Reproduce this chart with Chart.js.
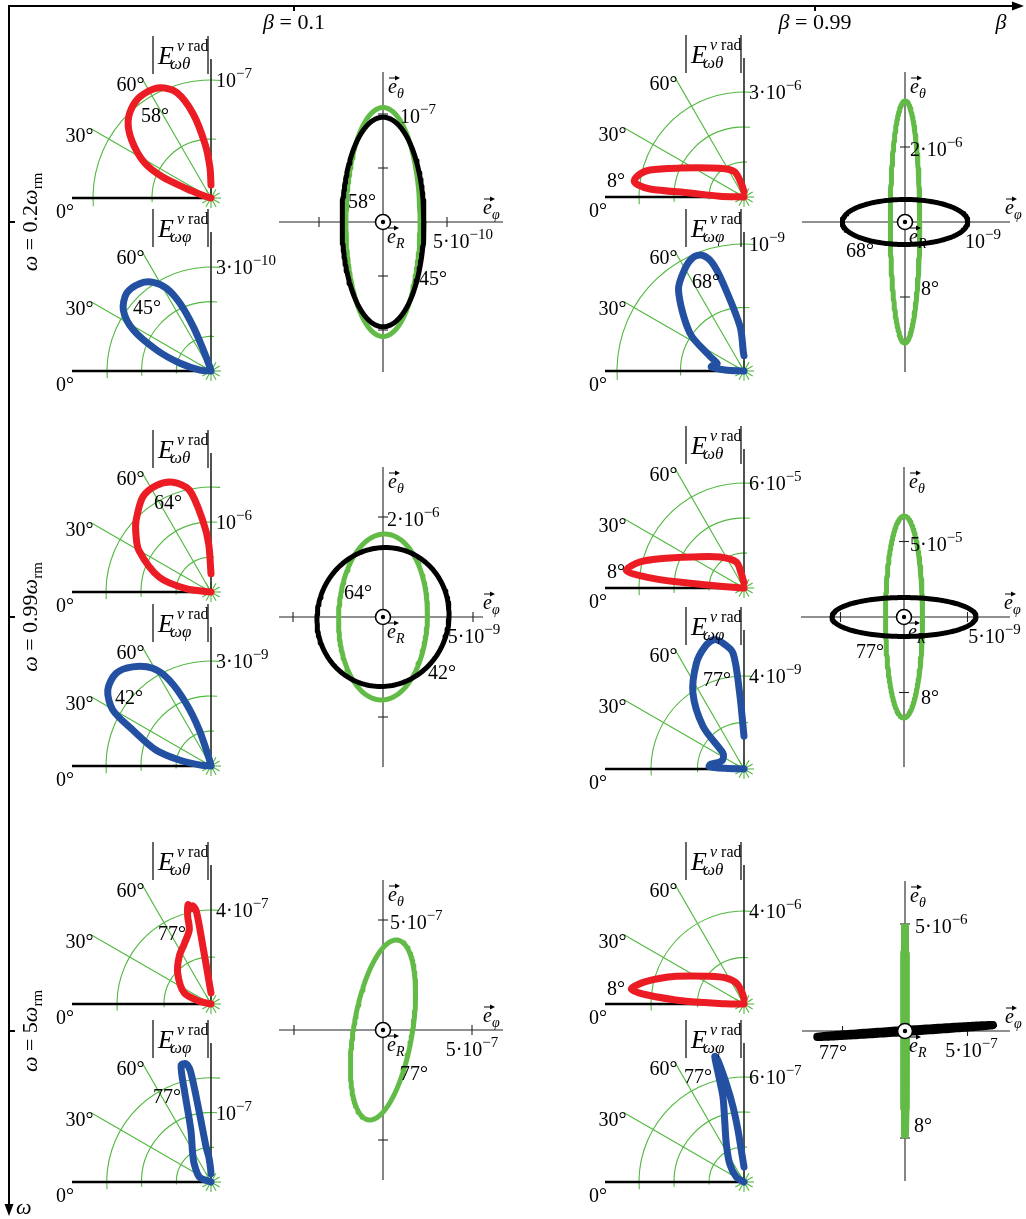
<!DOCTYPE html>
<html>
<head>
<meta charset="utf-8">
<title>Radiation patterns and polarisation ellipses</title>
<script src="https://cdn.jsdelivr.net/npm/chart.js@4.4.1/dist/chart.umd.min.js"></script>
<style>
  html, body { margin: 0; padding: 0; background: #fff; }
  #page { position: relative; width: 1026px; height: 1219px; overflow: hidden; background: #fff; }
  #page canvas { position: absolute; }
</style>
</head>
<body>
<div id="page"><canvas id="frame" width="1026" height="1219" style="left:0;top:0"></canvas></div>
<script>
// ---------- data ----------
const betaValues = ['0.1', '0.99'];
const omegaValues = ['0.2', '0.99', '5'];

// |E_ωθ| (red) and |E_ωφ| (blue) lobes: polar angle in degrees,
// magnitude in units of 10^exponent of the labelled ring of that panel
const thAng_r1c1 = [0, 12, 18, 21, 23.5, 28, 36, 43, 50.5, 57, 65, 72, 78, 83.7, 88, 90];
const thVal_r1c1 = [0, 0.02, 0.08, 0.22, 0.45, 0.64, 0.83, 0.96, 1.03, 1.05, 1.03, 0.94, 0.73, 0.46, 0.26, 0.11];
const phAng_r1c1 = [0, 5, 14, 21, 27.8, 34.8, 42.7, 51, 57, 61.8, 65.4, 68.2, 70, 74, 90];
const phVal_r1c1 = [0, 0.32, 0.92, 1.67, 2.53, 3.08, 3.31, 3.25, 3.05, 2.7, 2.14, 1.37, 0.65, 0.12, 0];

const thAng_r1c2 = [0, 2, 4.2, 4.9, 6.5, 8.3, 12.5, 16, 24.4, 40.5, 55, 70, 80, 90];
const thVal_r1c2 = [0, 0.7, 1.55, 2.7, 3.05, 3.17, 3.04, 2.8, 2.0, 1.28, 0.99, 0.76, 0.35, 0.15];
const phAng_r1c2 = [0, 3, 7, 12, 16, 24, 35, 51, 60, 66, 70, 73.6, 76.6, 85, 88, 90];
const phVal_r1c2 = [0, 0.15, 0.26, 0.24, 0.22, 0.3, 0.52, 0.82, 0.93, 0.98, 0.97, 0.89, 0.71, 0.35, 0.15, 0.12];

const thAng_r2c1 = [0, 7.6, 16, 30, 37.9, 43.7, 54.3, 62.7, 70.8, 78, 83.4, 87.2, 90];
const thVal_r2c1 = [0, 0.36, 0.77, 1.19, 1.36, 1.48, 1.67, 1.71, 1.66, 1.49, 1.03, 0.69, 0.26];
const phAng_r2c1 = [0, 5, 10.7, 16.2, 24.7, 29.7, 36.3, 44.3, 51.7, 59.2, 64.1, 68.3, 72, 76, 90];
const phVal_r2c1 = [0, 0.3, 0.92, 1.64, 2.46, 3.23, 3.66, 3.79, 3.61, 3.25, 2.73, 1.93, 1.08, 0.2, 0];

const thAng_r2c2 = [0, 3, 4.5, 5.2, 6.4, 8.5, 14, 19.2, 31.3, 51.9, 73.5, 79.4, 90];
const thVal_r2c2 = [0, 0.44, 1.97, 3.89, 5.62, 6.8, 6.14, 5.1, 3.41, 2.25, 1.55, 0.83, 0.3];
const phAng_r2c2 = [0, 2, 4, 8, 14, 22, 30, 37.3, 46.2, 56.1, 65.8, 72, 76.8, 80.5, 84.6, 86.7, 90];
const phVal_r2c2 = [0, 0.8, 1.5, 1.45, 1.15, 1.0, 1.02, 1.14, 2.55, 3.94, 4.99, 5.5, 5.71, 5.49, 5.01, 3.27, 1.41];

const thAng_r3c1 = [0, 13, 22.4, 43, 56.4, 66, 73.7, 75.1, 77, 78.5, 79.5, 81, 82, 84.6, 90];
const thVal_r3c1 = [0, 0.51, 1.23, 1.94, 2.44, 2.8, 3.29, 3.86, 4.34, 4.15, 4.25, 4.0, 2.48, 1.04, 0.47];
const phAng_r3c1 = [0, 23, 47.6, 58, 68.8, 73.8, 75.6, 78, 79.5, 80.5, 82, 85, 88, 90];
const phVal_r3c1 = [0, 0.18, 0.36, 0.5, 0.8, 1.37, 1.73, 1.74, 1.62, 1.0, 0.51, 0.36, 0.2, 0.12];

const thAng_r3c2 = [0, 1, 2.7, 5.4, 7.6, 13, 22.2, 38.9, 55.8, 70, 81, 90];
const thVal_r3c2 = [0, 0.8, 2.49, 4.22, 4.89, 4.31, 3.15, 1.9, 1.35, 0.96, 0.48, 0.2];
const phAng_r3c2 = [0, 33, 52, 65.2, 72.6, 76.1, 76.6, 76.9, 77.9, 79.8, 81.7, 83.4, 85.1, 88, 90];
const phVal_r3c2 = [0, 0.52, 1.33, 2.41, 3.69, 5.0, 6.17, 7.37, 7.11, 5.71, 4.33, 2.97, 1.82, 1.1, 0.86];

// rings of each lobe panel and the labelled ring [mantissa, exponent]
const thRings = [[[0.5, 1], [1, 2, 3]], [[0.5, 1, 1.5], [2, 4, 6]], [[2, 4], [2, 4]]];
const thRingLabel = [[[1, -7], [3, -6]], [[1, -6], [6, -5]], [[4, -7], [4, -6]]];
const phRings = [[[1, 2, 3], [0.5, 1]], [[1, 2, 3], [2, 4]], [[0.5, 1, 1.5], [2, 4, 6]]];
const phRingLabel = [[[3, -10], [1, -9]], [[3, -9], [4, -9]], [[1, -7], [6, -7]]];
const thPeak = [[58, 8], [64, 8], [77, 8]];
const phPeak = [[45, 68], [42, 77], [77, 77]];

// polarisation ellipses, cells r1c1, r1c2, r2c1, r2c2, r3c1, r3c2 (first green, second black)
const ellAng = [[58, 45], [8, 68], [64, 42], [8, 77], [77], [8, 77]];
const ellPhi = [[2.9e-10, 3.2e-10], [0.23e-9, 0.98e-9], [2.47e-9, 3.67e-9], [1.46e-9, 5.67e-9], [1.83e-7], [1.2e-8, 7.04e-7]];
const ellTheta = [[1.06e-7, 0.97e-7], [3.23e-6, 0.6e-6], [1.66e-6, 1.39e-6], [6.69e-5, 1.29e-5], [4.09e-7], [4.86e-6, 0.28e-6]];
const ellLag = [[90, 90], [90, 90], [88, 88], [90, 90], [66], [90, 10]];
const ellPhiTick = [5e-10, 1e-9, 5e-9, 5e-9, 5e-7, 5e-7];
const ellThetaTicks = [[0.5e-7, 1e-7], [2e-6], [2e-6], [5e-5], [5e-7], [5e-6]];

// ---------- layout ----------
const D = Math.PI / 180;
const RED = '#ec1c24', BLUE = '#2450a2', GREEN = '#63bb47', GRID = '#52b840';
const FONT = '"Liberation Serif", "Times New Roman", serif';
const AXIS = 139;   // length of lobe axes and rays, px

const colX = [211, 744];
const thOriginY = [[198, 197], [592, 588], [1004, 1004]];
const phOriginY = [[371, 371], [766, 769], [1182, 1182]];
const thRingPx = [[118, 105], [70, 105], [94, 93]];
const phRingPx = [[104, 127], [105, 93], [69.5, 105]];
const thPeakPos = [[[-56, -83], [-128, -17]], [[-43, -90], [-128, -17]], [[-39, -71], [-128, -16]]];
const phPeakPos = [[[-64, -64], [-38, -90]], [[-82, -69], [-27, -90]], [[-44, -86], [-46, -106]]];

const ellLayout = [
  { cx: 383, cy: 222, phPx: 64, thPx: 108, ax: [-104, 120], phLab: 16, thLab: 17, lw: [5, 5], ang: [[-21, -21], [50, 56]] },
  { cx: 905, cy: 222, phPx: 64, thPx: 75, ax: [-103, 105], phLab: 14, thLab: 5, lw: [5, 5], ang: [[25, 66], [-45, 28]] },
  { cx: 383, cy: 617, phPx: 90, thPx: 100, ax: [-104, 100], phLab: 1, thLab: 4, lw: [5, 5], ang: [[-25, -25], [59, 55]] },
  { cx: 904, cy: 617, phPx: 63.5, thPx: 75.5, ax: [-103, 106], phLab: 27, thLab: 6, lw: [5, 5], ang: [[26, 80], [-34, 34]] },
  { cx: 383, cy: 1030, phPx: 89, thPx: 110, ax: [-104, 120], phLab: 0, thLab: 7, lw: [5], ang: [[31, 43]] },
  { cx: 905, cy: 1031, phPx: 62.5, thPx: 107, ax: [-103, 105], phLab: 4, thLab: 10, lw: [7, 8], ang: [[18, 94], [-72, 21]] }
];

const page = document.getElementById('page');
const thAngs = [[thAng_r1c1, thAng_r1c2], [thAng_r2c1, thAng_r2c2], [thAng_r3c1, thAng_r3c2]];
const thVals = [[thVal_r1c1, thVal_r1c2], [thVal_r2c1, thVal_r2c2], [thVal_r3c1, thVal_r3c2]];
const phAngs = [[phAng_r1c1, phAng_r1c2], [phAng_r2c1, phAng_r2c2], [phAng_r3c1, phAng_r3c2]];
const phVals = [[phVal_r1c1, phVal_r1c2], [phVal_r2c1, phVal_r2c2], [phVal_r3c1, phVal_r3c2]];

// ---------- drawing helpers ----------
function font(size, italic) {
  return (italic ? 'italic ' : '') + size + 'px ' + FONT;
}

// runs: [text, size, italic, rise]
function drawRuns(ctx, runs, x, y, align) {
  let w = 0;
  runs.forEach(r => { ctx.font = font(r[1], r[2]); w += ctx.measureText(r[0]).width; });
  let cx = align === 'right' ? x - w : (align === 'center' ? x - w / 2 : x);
  ctx.textAlign = 'left';
  ctx.textBaseline = 'alphabetic';
  ctx.fillStyle = '#000';
  runs.forEach(r => {
    ctx.font = font(r[1], r[2]);
    ctx.fillText(r[0], cx, y - (r[3] || 0));
    cx += ctx.measureText(r[0]).width;
  });
}

function powRuns(m, e) {
  const base = (m === 1 ? '' : m + '·') + '10';
  return [[base, 20], ['−' + Math.abs(e), 15, false, 9]];
}

function splitPow(v) {
  const e = Math.floor(Math.log10(v) + 1e-9);
  return [Math.round(v / Math.pow(10, e)), e];
}

function line(ctx, x1, y1, x2, y2) {
  ctx.beginPath();
  ctx.moveTo(x1, y1);
  ctx.lineTo(x2, y2);
  ctx.stroke();
}

function header(ctx, ox, top, comp) {
  ctx.strokeStyle = '#000';
  ctx.lineWidth = 1.2;
  line(ctx, ox - 58, top - 23, ox - 58, top + 15);
  line(ctx, ox - 3, top - 23, ox - 3, top + 15);
  drawRuns(ctx, [['E', 26, true]], ox - 53, top + 5);
  drawRuns(ctx, [['v', 16, true], [' rad', 16]], ox - 34, top - 8);
  drawRuns(ctx, [['ω' + comp, 17, true]], ox - 41, top + 10);
}

function evec(ctx, x, y, sub) {
  drawRuns(ctx, [['e', 20, true]], x, y);
  drawRuns(ctx, [[sub, 14, true]], x + 9, y + 5);
  ctx.strokeStyle = '#000';
  ctx.lineWidth = 1;
  line(ctx, x + 1, y - 15, x + 9, y - 15);
  ctx.beginPath();
  ctx.moveTo(x + 12, y - 15);
  ctx.lineTo(x + 7, y - 17.5);
  ctx.lineTo(x + 7, y - 12.5);
  ctx.closePath();
  ctx.fillStyle = '#000';
  ctx.fill();
}

// one Chart.js scatter chart on its own canvas; ux/uy are reference values used to get px per unit
function makeChart(box, xr, yr, ux, uy, datasets, under, over) {
  const cv = document.createElement('canvas');
  cv.width = box.w;
  cv.height = box.h;
  Object.assign(cv.style, { left: box.x + 'px', top: box.y + 'px', width: box.w + 'px', height: box.h + 'px' });
  page.appendChild(cv);
  const geo = ch => {
    const xs = ch.scales.x, ys = ch.scales.y;
    const x0 = xs.getPixelForValue(0), y0 = ys.getPixelForValue(0);
    return { x0, y0, kx: (xs.getPixelForValue(ux) - x0) / ux, ky: (y0 - ys.getPixelForValue(uy)) / uy };
  };
  return new Chart(cv, {
    type: 'scatter',
    data: {
      datasets: datasets.map(d => Object.assign({
        showLine: true, pointRadius: 0, fill: false,
        borderCapStyle: 'round', borderJoinStyle: 'round'
      }, d))
    },
    options: {
      responsive: false,
      animation: false,
      devicePixelRatio: 1,
      events: [],
      layout: { padding: 0, autoPadding: false },
      plugins: { legend: { display: false }, tooltip: { enabled: false } },
      scales: {
        x: { type: 'linear', display: false, min: xr[0], max: xr[1] },
        y: { type: 'linear', display: false, min: yr[0], max: yr[1] }
      }
    },
    plugins: [{
      id: 'decor',
      beforeDatasetsDraw(ch) { const c = ch.ctx; c.save(); under(c, geo(ch)); c.restore(); },
      afterDatasetsDraw(ch) { const c = ch.ctx; c.save(); over(c, geo(ch)); c.restore(); }
    }]
  });
}

// ---------- lobe (polar) panels ----------
function lobePanel(r, c, isTh) {
  const ang = (isTh ? thAngs : phAngs)[r][c];
  const val = (isTh ? thVals : phVals)[r][c];
  const rings = (isTh ? thRings : phRings)[r][c];
  const lab = (isTh ? thRingLabel : phRingLabel)[r][c];
  const peak = (isTh ? thPeak : phPeak)[r][c];
  const pos = (isTh ? thPeakPos : phPeakPos)[r][c];
  const ox = colX[c];
  const oy = (isTh ? thOriginY : phOriginY)[r][c];
  const k = (isTh ? thRingPx : phRingPx)[r][c] / lab[0];
  const L = 172, R = 110, T = 172, B = 36;
  const pts = ang.map((a, i) => ({ x: -val[i] * Math.cos(a * D), y: val[i] * Math.sin(a * D) }));

  makeChart({ x: ox - L, y: oy - T, w: L + R, h: T + B }, [-L / k, R / k], [-B / k, T / k], 1, 1,
    [{ data: pts, borderColor: isTh ? RED : BLUE, borderWidth: 7, tension: 0.3 }],
    (ctx, g) => {
      ctx.strokeStyle = GRID;
      ctx.lineWidth = 1.1;
      rings.forEach(v => {
        ctx.beginPath();
        ctx.arc(g.x0, g.y0, v * g.kx, Math.PI - 4 * D, Math.PI + 95 * D);
        ctx.stroke();
      });
      [30, 60].forEach(a => line(ctx, g.x0, g.y0, g.x0 - AXIS * Math.cos(a * D), g.y0 - AXIS * Math.sin(a * D)));
      for (let a = 0; a < 360; a += 30) {
        line(ctx, g.x0, g.y0, g.x0 + 10 * Math.cos(a * D), g.y0 + 10 * Math.sin(a * D));
      }
      ctx.strokeStyle = '#000';
      ctx.lineWidth = 2.5;
      line(ctx, g.x0 - AXIS, g.y0, g.x0, g.y0);
      ctx.strokeStyle = '#1d2a1d';
      ctx.lineWidth = 1.6;
      line(ctx, g.x0, g.y0, g.x0, g.y0 - AXIS);
    },
    (ctx, g) => {
      drawRuns(ctx, [['0°', 20]], g.x0 - AXIS + 2, g.y0 + 20, 'right');
      [30, 60].forEach(a => {
        const ex = g.x0 - AXIS * Math.cos(a * D), ey = g.y0 - AXIS * Math.sin(a * D);
        drawRuns(ctx, [[a + '°', 20]], ex + 3, ey + 13, 'right');
      });
      drawRuns(ctx, powRuns(lab[0], lab[1]), g.x0 + 5, g.y0 - lab[0] * g.kx + 7);
      drawRuns(ctx, [[peak + '°', 20]], g.x0 + pos[0], g.y0 + pos[1] + 7, 'center');
      header(ctx, g.x0, g.y0 - AXIS, isTh ? 'θ' : 'φ');
    });
}

// ---------- polarisation ellipse panels ----------
function ellipsePanel(i) {
  const lay = ellLayout[i];
  const ticks = ellThetaTicks[i];
  const thTop = ticks[ticks.length - 1];
  const phTick = ellPhiTick[i];
  const kx = lay.phPx / phTick;
  const ky = lay.thPx / thTop;
  const L = 140, R = 165, T = 165, B = 165;
  const ds = ellAng[i].map((a, j) => {
    const pts = [];
    for (let t = 0; t <= 360; t += 2) {
      pts.push({ x: ellPhi[i][j] * Math.cos(t * D), y: ellTheta[i][j] * Math.cos((t + ellLag[i][j]) * D) });
    }
    return { data: pts, borderColor: j === 0 ? GREEN : '#000', borderWidth: lay.lw[j], tension: 0 };
  }).reverse();   // first dataset is painted last, so black lies over green

  makeChart({ x: lay.cx - L, y: lay.cy - T, w: L + R, h: T + B }, [-L / kx, R / kx], [-B / ky, T / ky], phTick, thTop, ds,
    (ctx, g) => {
      ctx.strokeStyle = '#222';
      ctx.lineWidth = 1.1;
      line(ctx, g.x0 + lay.ax[0], g.y0, g.x0 + lay.ax[1], g.y0);
      line(ctx, g.x0, g.y0 - 150, g.x0, g.y0 + 150);
      [-1, 1].forEach(s => {
        const tx = g.x0 + s * phTick * g.kx;
        line(ctx, tx, g.y0 - 5, tx, g.y0 + 5);
        ticks.forEach(v => {
          const ty = g.y0 - s * v * g.ky;
          line(ctx, g.x0 - 5, ty, g.x0 + 5, ty);
        });
      });
    },
    (ctx, g) => {
      ctx.fillStyle = '#fff';
      ctx.strokeStyle = '#000';
      ctx.lineWidth = 1.6;
      ctx.beginPath();
      ctx.arc(g.x0, g.y0, 7.5, 0, 2 * Math.PI);
      ctx.fill();
      ctx.stroke();
      ctx.fillStyle = '#000';
      ctx.beginPath();
      ctx.arc(g.x0, g.y0, 2.2, 0, 2 * Math.PI);
      ctx.fill();

      evec(ctx, g.x0 + 5, g.y0 - 129, 'θ');
      evec(ctx, g.x0 + 100, g.y0 - 8, 'φ');
      evec(ctx, g.x0 + 4, g.y0 + 21, 'R');

      const pl = splitPow(phTick);
      drawRuns(ctx, powRuns(pl[0], pl[1]), g.x0 + phTick * g.kx + lay.phLab, g.y0 + 26, 'center');
      const tl = splitPow(thTop);
      drawRuns(ctx, powRuns(tl[0], tl[1]), g.x0 + lay.thLab, g.y0 - thTop * g.ky + 9);

      ellAng[i].forEach((a, j) => {
        drawRuns(ctx, [[a + '°', 20]], g.x0 + lay.ang[j][0], g.y0 + lay.ang[j][1] + 7, 'center');
      });
    });
}

// ---------- frame with β and ω axes ----------
function drawFrame() {
  const fc = document.getElementById('frame').getContext('2d');
  fc.strokeStyle = '#000';
  fc.fillStyle = '#000';
  fc.lineWidth = 2;
  line(fc, 9, 6, 1014, 6);
  line(fc, 9, 5, 9, 1205);
  fc.beginPath(); fc.moveTo(1024, 6); fc.lineTo(1012, 1.5); fc.lineTo(1012, 10.5); fc.closePath(); fc.fill();
  fc.beginPath(); fc.moveTo(9, 1216); fc.lineTo(4.5, 1204); fc.lineTo(13.5, 1204); fc.closePath(); fc.fill();

  const betaX = [294, 815];
  betaValues.forEach((b, i) => {
    line(fc, betaX[i], 6, betaX[i], 11);
    drawRuns(fc, [['β', 22, true], [' = ' + b, 22]], betaX[i], 29, 'center');
  });
  drawRuns(fc, [['β', 22, true]], 1001, 29, 'center');

  const omegaY = [222, 617, 1031];
  omegaValues.forEach((w, i) => {
    line(fc, 9, omegaY[i], 15, omegaY[i]);
    fc.save();
    fc.translate(37, omegaY[i]);
    fc.rotate(-Math.PI / 2);
    drawRuns(fc, [['ω', 22, true], [' = ' + w, 22], ['ω', 22, true], ['rm', 15, false, -5]], 0, 0, 'center');
    fc.restore();
  });
  drawRuns(fc, [['ω', 22, true]], 16, 1214);
}

drawFrame();
for (let r = 0; r < 3; r++) {
  for (let c = 0; c < 2; c++) {
    lobePanel(r, c, true);
    lobePanel(r, c, false);
    ellipsePanel(r * 2 + c);
  }
}
</script>
</body>
</html>
